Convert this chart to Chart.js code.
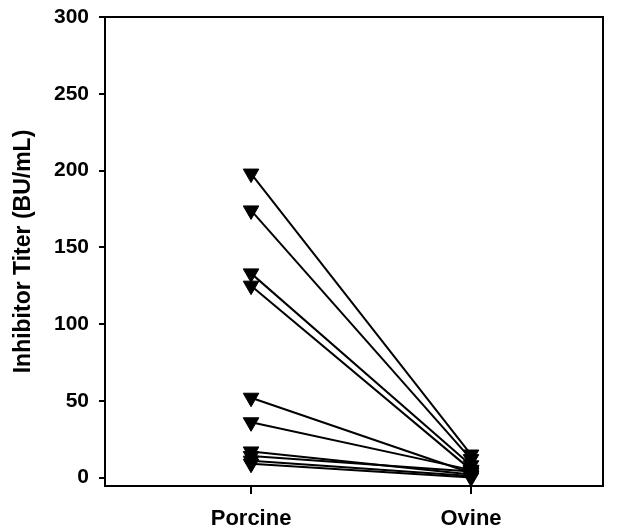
<!DOCTYPE html>
<html>
<head>
<meta charset="utf-8">
<script src="https://cdn.jsdelivr.net/npm/chart.js@4"></script>
<style>
    html, body { margin: 0; padding: 0; background: #fff; }
    #wrap { width: 624px; height: 532px; }
</style>
</head>
<body>
<div id="wrap"><canvas id="titerChart" width="624" height="532"></canvas></div>
<script>
/* ===============================
   Data
=============================== */

const categories = ["Porcine", "Ovine"];

const porcineTiters = [198, 174, 133, 125, 52, 36, 17, 14, 11, 9];

const ovineTiters = [15, 12, 8, 5, 3, 5, 2, 4, 1, 0];

const yTickValues = [0, 50, 100, 150, 200, 250, 300];

/* ===============================
   Build datasets (one line per patient)
=============================== */

const datasets = porcineTiters.map(function (p, i) {
    return {
        data: [
            { x: 1, y: p },
            { x: 2, y: ovineTiters[i] }
        ],
        borderColor: "#000",
        backgroundColor: "#000",
        borderWidth: 2,
        pointStyle: "triangle",
        rotation: 180,
        pointRadius: 9,
        pointBorderWidth: 1,
        showLine: true
    };
});

/* frame around the plot area */
const framePlugin = {
    id: "frame",
    afterDraw: function (chart) {
        const a = chart.chartArea;
        const ctx = chart.ctx;
        ctx.save();
        ctx.strokeStyle = "#000";
        ctx.lineWidth = 2;
        ctx.strokeRect(a.left, a.top, a.right - a.left, a.bottom - a.top);
        ctx.restore();
    }
};

const family = "'Liberation Sans', Arial, sans-serif";

new Chart(document.getElementById("titerChart"), {
    type: "scatter",
    data: { datasets: datasets },
    plugins: [framePlugin],
    options: {
        responsive: false,
        animation: false,
        layout: { padding: { top: 17, right: 21, left: 0, bottom: 0 } },
        plugins: {
            legend: { display: false },
            tooltip: { enabled: false }
        },
        scales: {
            x: {
                type: "linear",
                min: 0.336,
                max: 2.6,
                afterBuildTicks: function (axis) {
                    axis.ticks = [{ value: 1 }, { value: 2 }];
                },
                afterFit: function (axis) {
                    axis.height = 46;
                },
                ticks: {
                    color: "#000",
                    font: { family: family, weight: "bold", size: 22 },
                    padding: 12,
                    callback: function (v) {
                        return categories[v - 1];
                    }
                },
                grid: {
                    drawOnChartArea: false,
                    color: "#000",
                    lineWidth: 2,
                    tickLength: 8
                },
                border: { color: "#000", width: 2 }
            },
            y: {
                min: -5.5,
                max: 300,
                afterBuildTicks: function (axis) {
                    axis.ticks = yTickValues.map(function (v) {
                        return { value: v };
                    });
                },
                afterFit: function (axis) {
                    axis.width = 105;
                    axis.paddingTop = 0;
                    axis.paddingBottom = 0;
                },
                ticks: {
                    color: "#000",
                    font: { family: family, weight: "bold", size: 21 },
                    padding: 10
                },
                title: {
                    display: true,
                    text: "Inhibitor Titer (BU/mL)",
                    color: "#000",
                    font: { family: family, weight: "bold", size: 23 },
                    padding: { top: 10, bottom: 4 }
                },
                grid: {
                    drawOnChartArea: false,
                    color: "#000",
                    lineWidth: 2,
                    tickLength: 6
                },
                border: { color: "#000", width: 2 }
            }
        }
    }
});
</script>
</body>
</html>
